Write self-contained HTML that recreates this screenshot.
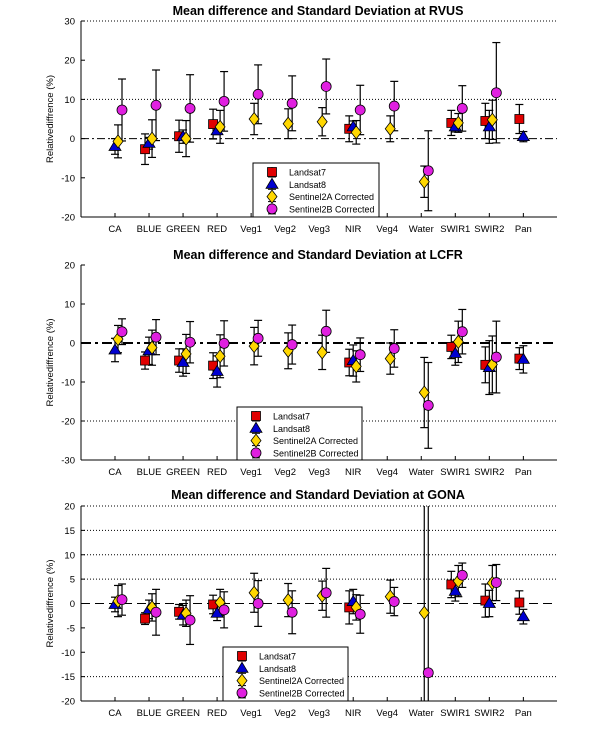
<!DOCTYPE html>
<html><head><meta charset="utf-8">
<style>
html,body{margin:0;padding:0;background:#fff;width:615px;height:732px;overflow:hidden;}
svg{display:block;font-family:"Liberation Sans",Arial,sans-serif;}
</style></head>
<body>
<svg id="chart" width="615" height="732" viewBox="0 0 615 732"></svg>
<script>
const categories = ["CA","BLUE","GREEN","RED","Veg1","Veg2","Veg3","NIR","Veg4","Water","SWIR1","SWIR2","Pan"];
const seriesNames = ["Landsat7","Landsat8","Sentinel2A Corrected","Sentinel2B Corrected"];
// RVUS (null = no data)
const rvusL7Mean = [null,-2.7,0.6,3.7,null,null,null,2.5,null,null,4.0,4.5,5.0];
const rvusL7Sd   = [null,3.9,4.1,3.8,null,null,null,3.3,null,null,3.2,4.5,3.7];
const rvusL8Mean = [-2.0,-1.2,0.5,2.0,null,null,null,3.0,null,null,3.0,3.0,0.5];
const rvusL8Sd   = [2.0,1.5,1.7,1.0,null,null,null,1.5,null,null,1.3,4.2,1.3];
const rvusS2AMean= [-0.7,0.0,0.0,3.0,5.0,3.8,4.3,1.6,2.5,-11.0,4.0,4.8,null];
const rvusS2ASd  = [4.2,4.8,4.6,4.2,4.0,3.8,3.6,3.0,3.3,4.0,2.4,5.0,null];
const rvusS2BMean= [7.3,8.5,7.7,9.5,11.3,9.0,13.3,7.3,8.3,-8.2,7.7,11.7,null];
const rvusS2BSd  = [7.9,9.0,8.6,7.6,7.5,7.0,7.0,6.3,6.3,10.2,5.8,12.8,null];
// LCFR
const lcfrL7Mean = [null,-4.5,-4.5,-5.8,null,null,null,-5.0,null,null,-1.0,-5.6,-4.0];
const lcfrL7Sd   = [null,2.2,3.0,3.3,null,null,null,3.4,null,null,3.0,4.6,2.8];
const lcfrL8Mean = [-1.8,-2.0,-5.0,-7.3,null,null,null,-4.5,null,null,-2.7,-6.3,-4.2];
const lcfrL8Sd   = [3.0,3.5,3.5,4.0,null,null,null,4.0,null,null,3.0,6.9,3.5];
const lcfrS2AMean= [1.0,-1.2,-2.8,-3.4,-0.8,-2.0,-2.4,-6.0,-4.0,-12.7,0.3,-5.5,null];
const lcfrS2ASd  = [3.5,4.5,5.0,5.5,4.8,4.6,4.4,4.0,4.0,9.0,5.3,7.3,null];
const lcfrS2BMean= [2.9,1.5,0.2,-0.1,1.2,-0.4,3.0,-3.0,-1.4,-16.0,2.9,-3.6,null];
const lcfrS2BSd  = [3.3,4.5,5.3,5.8,4.6,5.0,5.4,4.3,4.8,11.0,5.7,9.2,null];
// GONA
const gonaL7Mean = [null,-3.1,-1.7,-0.2,null,null,null,-0.8,null,null,3.9,0.6,0.2];
const gonaL7Sd   = [null,1.2,1.5,1.9,null,null,null,3.4,null,null,2.7,3.4,2.4];
const gonaL8Mean = [-0.2,-1.2,-2.4,-2.0,null,null,null,0.4,null,null,2.5,0.0,-2.7];
const gonaL8Sd   = [1.5,1.9,2.0,1.5,null,null,null,2.5,null,null,2.0,2.7,1.5];
const gonaS2AMean= [0.5,-0.8,-2.0,0.2,2.2,0.7,1.6,-0.8,1.4,-1.9,4.6,4.2,null];
const gonaS2ASd  = [3.2,2.8,2.7,2.7,4.0,3.4,3.0,2.6,3.4,45,3.2,3.6,null];
const gonaS2BMean= [0.8,-1.8,-3.4,-1.3,0.0,-1.8,2.2,-2.2,0.4,-14.2,5.8,4.3,null];
const gonaS2BSd  = [3.2,4.7,5.0,3.7,4.7,4.4,5.0,3.9,2.9,45,2.5,3.7,null];

const NS="http://www.w3.org/2000/svg";
const svg=document.getElementById('chart');
function el(tag,attrs,parent){const e=document.createElementNS(NS,tag);for(const k in attrs)e.setAttribute(k,attrs[k]);(parent||svg).appendChild(e);return e;}

const panels=[
 {name:"rvus",title:"Mean difference and Standard Deviation at RVUS",titleY:15,top:21,bottom:217,ymin:-20,ymax:30,ticks:[30,20,10,0,-10,-20],grid:[30,10],zeroW:1,zeroDash:"8,3,2,3",
  legend:[253,163,126,54],means:[rvusL7Mean,rvusL8Mean,rvusS2AMean,rvusS2BMean],sds:[rvusL7Sd,rvusL8Sd,rvusS2ASd,rvusS2BSd]},
 {name:"lcfr",title:"Mean difference and Standard Deviation at LCFR",titleY:259,top:265,bottom:460,ymin:-30,ymax:20,ticks:[20,10,0,-10,-20,-30],grid:[-20],zeroW:2,zeroDash:"10,4,3,4",
  legend:[237,407,125,53],means:[lcfrL7Mean,lcfrL8Mean,lcfrS2AMean,lcfrS2BMean],sds:[lcfrL7Sd,lcfrL8Sd,lcfrS2ASd,lcfrS2BSd]},
 {name:"gona",title:"Mean difference and Standard Deviation at GONA",titleY:499,top:506,bottom:701,ymin:-20,ymax:20,ticks:[20,15,10,5,0,-5,-10,-15,-20],grid:[20,15,10,5,-15],zeroW:1,zeroDash:"9,5",
  legend:[223,647,125,54],means:[gonaL7Mean,gonaL8Mean,gonaS2AMean,gonaS2BMean],sds:[gonaL7Sd,gonaL8Sd,gonaS2ASd,gonaS2BSd]}
];
const X0=81, X1=557;
function xCat(i){return 115+i*34.03;}
const offsets=[-4,0,3,7];
const fills=["#e00000","#0000d0","#ffd700","#e020e0"];

function marker(g,s,x,y){
  if(s===0) el('rect',{x:x-4.5,y:y-4.5,width:9,height:9,fill:fills[0],stroke:"#000","stroke-width":0.8},g);
  else if(s===1) el('polygon',{points:`${x},${y-6} ${x+6},${y+4} ${x-6},${y+4}`,fill:fills[1],stroke:"#000","stroke-width":0.8},g);
  else if(s===2) el('polygon',{points:`${x},${y-6.5} ${x+5},${y} ${x},${y+6.5} ${x-5},${y}`,fill:fills[2],stroke:"#000","stroke-width":0.8},g);
  else el('circle',{cx:x,cy:y,r:5,fill:fills[3],stroke:"#000","stroke-width":0.8},g);
}

panels.forEach(p=>{
  const g=el('g',{});
  
  
  const yS=v=>p.bottom-(v-p.ymin)/(p.ymax-p.ymin)*(p.bottom-p.top);
  const clampY=y=>Math.max(p.top,Math.min(p.bottom,y));
  const t=el('text',{x:318,y:p.titleY,"text-anchor":"middle","font-size":"12.5","font-weight":"bold"},g);
  t.textContent=p.title;
  
  
  p.grid.forEach(v=>{
    const l=el('line',{x1:X0,x2:X1,y1:yS(v),y2:yS(v),stroke:"#000","stroke-width":1,"stroke-dasharray":"1,2"},g);
    
    
  });
  const z=el('line',{x1:X0,x2:X1,y1:yS(0),y2:yS(0),stroke:"#000","stroke-width":p.zeroW,"stroke-dasharray":p.zeroDash},g);
  
  
  const ya=el('line',{x1:X0,x2:X0,y1:p.top,y2:p.bottom,stroke:"#000","stroke-width":1},g);
  
  
  const xa=el('line',{x1:X0,x2:X1,y1:p.bottom,y2:p.bottom,stroke:"#000","stroke-width":1},g);
  
  
  p.ticks.forEach(v=>{
    el('line',{x1:X0,x2:X0+4,y1:yS(v),y2:yS(v),stroke:"#000"},g);
    const tl=el('text',{x:75,y:yS(v)+3.5,"text-anchor":"end","font-size":"9.5"},g);
    tl.textContent=v;
    
    
  });
  categories.forEach((c,i)=>{
    el('line',{x1:xCat(i),x2:xCat(i),y1:p.bottom,y2:p.bottom-4,stroke:"#000"},g);
    const cl=el('text',{x:xCat(i),y:p.bottom+15,"text-anchor":"middle","font-size":"9.5"},g);
    cl.textContent=c;
    
    
  });
  const yt=el('text',{x:0,y:0,"text-anchor":"middle","font-size":"9.5",transform:`translate(53,${(p.top+p.bottom)/2}) rotate(-90)`},g);
  yt.textContent="Relativediffrence (%)";
  
  
  const sg=el('g',{},g);
  p.means.forEach((arr,s)=>{
    arr.forEach((m,i)=>{
      if(m===null) return;
      const sd=p.sds[s][i];
      const x=xCat(i)+offsets[s];
      const eb=el('g',{},sg);
      
      
      const yHi=yS(m+sd), yLo=yS(m-sd);
      el('line',{x1:x,x2:x,y1:clampY(yHi),y2:clampY(yLo),stroke:"#000","stroke-width":1.2},eb);
      if(yHi>=p.top) el('line',{x1:x-4,x2:x+4,y1:yHi,y2:yHi,stroke:"#000","stroke-width":1.2},eb);
      if(yLo<=p.bottom) el('line',{x1:x-4,x2:x+4,y1:yLo,y2:yLo,stroke:"#000","stroke-width":1.2},eb);
    });
  });
  p.means.forEach((arr,s)=>{
    arr.forEach((m,i)=>{
      if(m===null) return;
      const mg=el('g',{},sg);
      
      
      marker(mg,s,xCat(i)+offsets[s],yS(m));
    });
  });
  const [lx,ly,lw,lh]=p.legend;
  const lg=el('g',{},g);
  
  
  el('rect',{x:lx,y:ly,width:lw,height:lh,fill:"#fff",stroke:"#000","stroke-width":1},lg);
  seriesNames.forEach((n,s)=>{
    const ry=ly+9+s*12.3;
    const eg=el('g',{},lg);
    
    
    const mx=lx+19;
    el('line',{x1:mx,x2:mx,y1:ry-5,y2:ry+5,stroke:"#000"},eg);
    el('line',{x1:mx-4,x2:mx+4,y1:ry+5,y2:ry+5,stroke:"#000"},eg);
    marker(eg,s,mx,ry);
    const lt=el('text',{x:lx+36,y:ry+3.5,"font-size":"9"},eg);
    lt.textContent=n;
  });
});
</script>
</body></html>
